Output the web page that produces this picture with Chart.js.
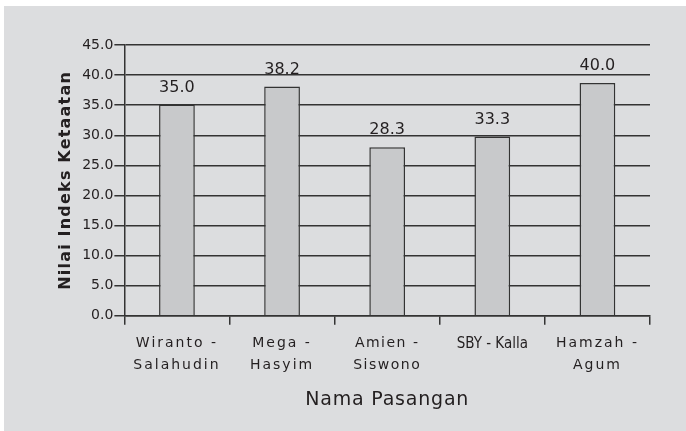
<!DOCTYPE html>
<html>
<head>
<meta charset="utf-8">
<script src="https://cdn.jsdelivr.net/npm/chart.js@4/dist/chart.umd.min.js"></script>
<style>
  html, body { margin: 0; padding: 0; background: #ffffff; }
  #wrap { position: absolute; left: 4px; top: 6px; width: 682px; height: 425px; background: #dcdddf; }
</style>
</head>
<body>
<div id="wrap"><canvas id="grafikKetaatan"></canvas></div>
<script>
// data pasangan capres - cawapres
const pasangan = [
  ['Wiranto -', 'Salahudin'],
  ['Mega -', 'Hasyim'],
  ['Amien -', 'Siswono'],
  'SBY - Kalla',
  ['Hamzah -', 'Agum']
];
const nilaiBatang = [35.1, 38.1, 28.0, 29.8, 38.7];   // tinggi batang seperti di gambar
const labelNilai = ['35.0', '38.2', '28.3', '33.3', '40.0']; // angka yang tertulis di atas batang
const spasiLabelX = ['2px', '2px', '1.5px', '0px', '2px']; // "SBY - Kalla" tanpa spasi

const warnaTeks = '#231f20';
const warnaGaris = '#333333';

// jarak antar huruf untuk judul sumbu
const spasiJudul = { x: '0.8px', y: '1.2px' };

const pluginSpasi = {
  id: 'spasiHuruf',
  beforeDraw(chart) {
    const ctx = chart.ctx;
    Object.keys(spasiJudul).forEach(function(id) {
      const s = chart.scales[id];
      if (!s || s._sudahDibungkus) return;
      const asliTitle = s.drawTitle;
      s.drawTitle = function() {
        ctx.save();
        ctx.letterSpacing = spasiJudul[id];
        asliTitle.apply(this, arguments);
        ctx.restore();
      };
      if (id === 'x') {
        // gambar label sumbu x satu per satu supaya spasinya bisa beda
        s.drawLabels = function(chartArea) {
          const items = this.getLabelItems(chartArea);
          items.forEach(function(item, i) {
            ctx.save();
            ctx.letterSpacing = spasiLabelX[i] || '0px';
            Chart.helpers.renderText(ctx, item.label, 0, item.textOffset, item.font, item.options);
            ctx.restore();
          });
        };
      }
      s._sudahDibungkus = true;
    });
  }
};

const pluginLabelNilai = {
  id: 'labelNilai',
  afterDatasetsDraw(chart) {
    const ctx = chart.ctx;
    const meta = chart.getDatasetMeta(0);
    ctx.save();
    ctx.font = '16px "DejaVu Sans"';
    ctx.fillStyle = warnaTeks;
    ctx.textAlign = 'center';
    ctx.textBaseline = 'middle';
    meta.data.forEach(function(bar, i) {
      ctx.fillText(labelNilai[i], bar.x, bar.y - 17);
    });
    ctx.restore();
  }
};

new Chart(document.getElementById('grafikKetaatan'), {
  type: 'bar',
  data: {
    labels: pasangan,
    datasets: [{
      data: nilaiBatang,
      backgroundColor: '#c8c9cb',
      borderColor: warnaGaris,
      borderWidth: 1.5,
      categoryPercentage: 1,
      barPercentage: 0.34
    }]
  },
  options: {
    responsive: true,
    maintainAspectRatio: false,
    animation: false,
    layout: { padding: { left: 52, right: 36, top: 39, bottom: 20 } },
    plugins: {
      legend: { display: false },
      tooltip: { enabled: false }
    },
    scales: {
      x: {
        offset: true,
        grid: { offset: true, drawOnChartArea: false, color: warnaGaris, lineWidth: 1.5, tickLength: 9 },
        border: { color: warnaGaris, width: 1.5 },
        ticks: {
          color: warnaTeks,
          font: function(c) {
            return c.index === 3
              ? { family: '"DejaVu Sans Condensed", "DejaVu Sans"', size: 15, lineHeight: 1.45 }
              : { family: 'DejaVu Sans', size: 14, lineHeight: 1.55 };
          },
          padding: 8,
          maxRotation: 0
        },
        title: { display: true, text: 'Nama Pasangan', color: warnaTeks, font: { family: 'DejaVu Sans', size: 19, weight: '500' }, padding: { top: 4, bottom: 0 } }
      },
      y: {
        min: 0,
        max: 45,
        grid: { color: warnaGaris, lineWidth: 1.5, tickLength: 10 },
        border: { color: warnaGaris, width: 1.5 },
        ticks: {
          stepSize: 5,
          color: warnaTeks,
          padding: 1,
          font: { family: 'DejaVu Sans', size: 14 },
          callback: function(value) { return value.toFixed(1); }
        },
        title: { display: true, text: 'Nilai Indeks Ketaatan', color: warnaTeks, font: { family: 'DejaVu Sans', size: 16, weight: 'bold' }, padding: { top: 0, bottom: 6 } }
      }
    }
  },
  plugins: [pluginSpasi, pluginLabelNilai]
});
</script>
</body>
</html>
